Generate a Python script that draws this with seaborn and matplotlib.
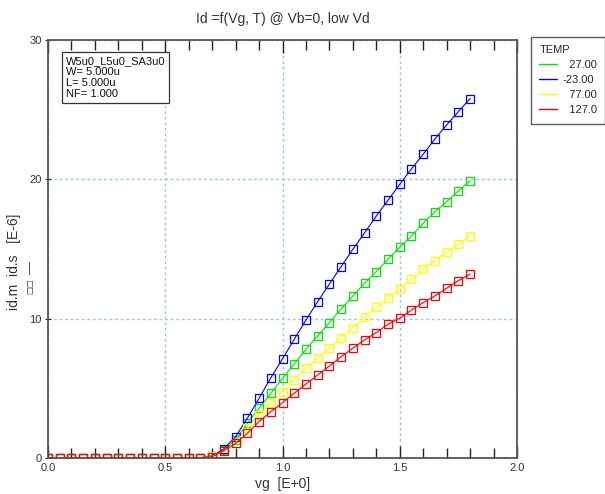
import matplotlib
matplotlib.use("Agg")
import matplotlib.pyplot as plt
import seaborn as sns
import pandas as pd
from matplotlib.ticker import MultipleLocator

# gate voltage sweep, 0.05 V step
vg = [0.00, 0.05, 0.10, 0.15, 0.20, 0.25, 0.30, 0.35, 0.40, 0.45, 0.50, 0.55, 0.60,
      0.65, 0.70, 0.75, 0.80, 0.85, 0.90, 0.95, 1.00, 1.05, 1.10, 1.15, 1.20, 1.25,
      1.30, 1.35, 1.40, 1.45, 1.50, 1.55, 1.60, 1.65, 1.70, 1.75, 1.80]

zeros = [0.0] * 13

# drain current [E-6] per temperature
id_27 = zeros + [0.02, 0.12, 0.55, 1.30, 2.49, 3.57, 4.64, 5.72, 6.75, 7.80, 8.76, 9.71,
                 10.70, 11.63, 12.54, 13.38, 14.27, 15.12, 15.94, 16.85, 17.68, 18.40,
                 19.17, 19.90]
id_m23 = zeros + [0.02, 0.16, 0.65, 1.53, 2.85, 4.28, 5.75, 7.12, 8.52, 9.90, 11.22, 12.49,
                  13.73, 14.98, 16.16, 17.37, 18.50, 19.65, 20.75, 21.80, 22.90, 23.90,
                  24.86, 25.80]
id_77 = zeros + [0.02, 0.12, 0.52, 1.10, 2.13, 3.09, 3.93, 4.76, 5.60, 6.44, 7.16, 7.88,
                 8.64, 9.35, 10.10, 10.82, 11.50, 12.10, 12.83, 13.55, 14.14, 14.77,
                 15.34, 15.96]
id_127 = zeros + [0.02, 0.10, 0.52, 1.05, 1.77, 2.61, 3.32, 3.97, 4.65, 5.31, 5.96, 6.60,
                  7.27, 7.88, 8.47, 9.00, 9.60, 10.03, 10.62, 11.15, 11.63, 12.18,
                  12.73, 13.20]

temps = ["27.00", "-23.00", "77.00", "127.0"]
colors = ["#00e600", "#0000ff", "#ffff00", "#ff0000"]
series = [id_27, id_m23, id_77, id_127]


def main():
    sns.set_style("white")
    plt.rcParams['font.family'] = ['Liberation Sans', 'DejaVu Sans']

    fig = plt.figure(figsize=(6.05, 4.94), dpi=100)
    ax = fig.add_axes([48 / 605, 36 / 494, 469 / 605, 418 / 494])

    for temp, col, vals in zip(temps, colors, series):
        df = pd.DataFrame({'vg': vg, 'id': vals})
        sns.lineplot(data=df, x='vg', y='id', color=col, lw=0.8, marker='s', ms=5.5,
                     mfc='none', mec=col, mew=0.9, label=temp, ax=ax, legend=False)

    ax.set_xlim(0, 2.0)
    ax.set_ylim(0, 30)
    ax.xaxis.set_major_locator(MultipleLocator(0.5))
    ax.xaxis.set_minor_locator(MultipleLocator(0.1))
    ax.yaxis.set_major_locator(MultipleLocator(10))
    ax.xaxis.set_major_formatter(plt.FuncFormatter(lambda v, p: f"{v:.1f}"))
    ax.tick_params(axis='x', which='both', direction='in', top=True, bottom=True,
                   labelsize=8, colors='#222222', labelcolor='#333333')
    ax.tick_params(axis='x', which='major', length=9, width=1)
    ax.tick_params(axis='x', which='minor', length=7, width=1)
    ax.tick_params(axis='y', which='major', direction='inout', length=5, left=True,
                   labelsize=8, labelcolor='#333333', pad=2)

    ax.grid(True, which='major', color='#8ccbea', ls=(0, (2, 2)), lw=1)
    for sp in ax.spines.values():
        sp.set_color('#555555')
        sp.set_linewidth(1.3)

    ax.set_title("Id =f(Vg, T) @ Vb=0, low Vd", fontsize=10, color='#333333', pad=12)
    ax.set_xlabel("vg  [E+0]", fontsize=10, color='#333333', labelpad=3)
    ax.set_ylabel("id.m  id.s   [E-6]", fontsize=10, color='#333333')
    ax.yaxis.set_label_coords(-0.058, 0.47)
    fig.text(0.041, 1 - 286 / 494, "\u25a1\u25a1", rotation=90, fontsize=6,
             family='DejaVu Sans', color='#333333', va='center', ha='left')
    fig.text(0.041, 1 - 268 / 494, "\u2014", rotation=90, fontsize=9,
             color='#333333', va='center', ha='left')

    ax.text(0.038, 0.962, "W5u0_L5u0_SA3u0\nW= 5.000u\nL= 5.000u\nNF= 1.000",
            transform=ax.transAxes, fontsize=8, va='top', ha='left',
            linespacing=1.15, color='#111111',
            bbox=dict(boxstyle='square,pad=0.35', fc='white', ec='#333333', lw=0.9))

    handles = [plt.Line2D([], [], color=c, lw=1) for c in colors]
    leg = fig.legend(handles, ["  27.00", "-23.00", "  77.00", "  127.0"],
                     title="TEMP", loc='upper left',
                     bbox_to_anchor=(531 / 605, 1 - 37 / 494), fontsize=8,
                     title_fontsize=8, frameon=True, fancybox=False,
                     edgecolor='#333333', handlelength=1.6, handletextpad=0.5,
                     labelspacing=0.45, borderpad=0.75, borderaxespad=0,
                     alignment='left')
    leg.get_frame().set_linewidth(1)

    fig.savefig("out.png", dpi=100)


if __name__ == '__main__':
    main()
